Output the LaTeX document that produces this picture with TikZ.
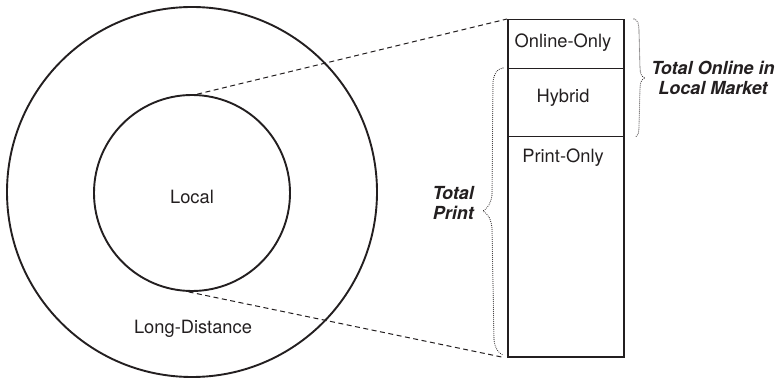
\documentclass[tikz,border=0pt]{standalone}
\usepackage{fontspec}
\setmainfont{TeX Gyre Heros}
\definecolor{ink}{HTML}{231F20}
\begin{document}
\begin{tikzpicture}[x=1pt,y=-1pt,
  ring/.style={circle,draw=ink,line width=1.9pt,inner sep=0pt},
  cell/.style={rectangle,draw=ink,line width=1.5pt,inner sep=0pt,minimum width=116pt,anchor=north west},
  lbl/.style={text=ink,font=\fontsize{18.3}{20}\selectfont,inner sep=0pt,anchor=base},
  tag/.style={text=ink,font=\fontsize{18}{19.5}\selectfont\bfseries\itshape,inner sep=0pt},
  guide/.style={draw=ink,line width=1pt,dash pattern=on 5pt off 3.5pt},
  bracket/.style={draw=ink,line width=1.1pt,line cap=round,dash pattern=on 0pt off 2pt},
]
\useasboundingbox (0,0) rectangle (779,379);

% market rings
\node[ring,minimum size=370pt] (outer) at (192,192) {};
\node[ring,minimum size=196pt] (inner) at (192,193) {};
\node[lbl] (tLocal) at (192,204) {Local};
\node[lbl] (tLong) at (193,334) {Long-Distance};

% stacked bar of the local market
\node[cell,minimum height=49pt] (online) at (507,19) {};
\node[cell,minimum height=68pt] (hybrid) at (507,68) {};
\node[cell,minimum height=220pt] (print) at (507,136) {};
\node[lbl] (tOnline) at (563,48) {Online-Only};
\node[lbl] (tHybrid) at (563,103) {Hybrid};
\node[lbl] (tPrint) at (563,163) {Print-Only};

% projection of the inner ring onto the bar
\draw[guide] (inner.87) -- (online.north west);
\draw[guide] (inner.268) -- ([xshift=-3pt]print.south west);

% group braces, drawn by hand
\draw[bracket] (634,19) .. controls (638,20) and (639,24) .. (639,32)
  -- (640,68) .. controls (640,74) and (642,77) .. (645,78)
  .. controls (642,79) and (640,82) .. (640,88)
  -- (639,126) .. controls (639,133) and (638,136) .. (635,137);
\draw[bracket] (503,68) .. controls (497,69) and (494,73) .. (493,82)
  -- (492,195) .. controls (491,203) and (488,208) .. (483,211)
  .. controls (488,214) and (491,219) .. (492,228)
  -- (494,340) .. controls (495,348) and (498,353) .. (503,355);
\node[tag,align=center] (tOnlineAll) at (713,78) {Total Online in\\Local Market};
\node[tag,align=right,anchor=east] (tPrintAll) at (474,203) {Total\\Print};
\end{tikzpicture}
\end{document}
